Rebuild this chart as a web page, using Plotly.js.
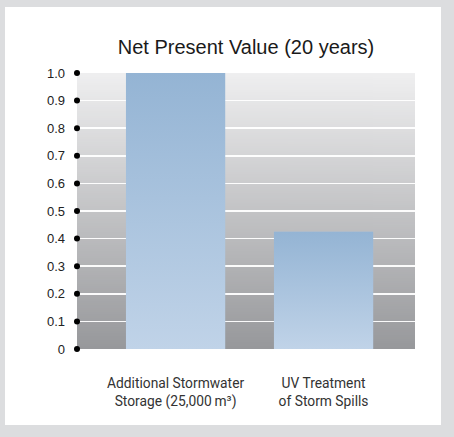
<!DOCTYPE html>
<html><head><meta charset="utf-8">
<script src="https://cdn.plot.ly/plotly-3.0.1.min.js"></script>
<style>
html,body{margin:0;padding:0;background:#dcdddf;width:454px;height:437px;overflow:hidden}
#panel{position:absolute;left:5px;top:7px;width:436px;height:418px;background:#fff}
#chart{width:436px;height:418px}
</style></head><body><div id="panel"><div id="chart"></div></div>
<script>
// ---- data ----
const categories = ["Additional Stormwater<br>Storage (25,000\u2009m³)", "UV Treatment<br>of Storm Spills"];
const categoryPositions = [0, 1];
const npvValues = [1.0, 0.425];
const yTickValues = [0, 0.1, 0.2, 0.3, 0.4, 0.5, 0.6, 0.7, 0.8, 0.9, 1.0];
const yTickLabels = ["0", "0.1", "0.2", "0.3", "0.4", "0.5", "0.6", "0.7", "0.8", "0.9", "1.0"];
const chartTitle = "Net Present Value (20 years)";

// ---- style ----
const barWidth = 0.67;
const xRange = [-0.666, 1.618];
const yRange = [0, 1.0];
const barTop = '#94b4d4', barBottom = '#c0d3e8';

function gradientURL(top, bottom) {
  const c = document.createElement('canvas');
  c.width = 4; c.height = 256;
  const g = c.getContext('2d');
  const gr = g.createLinearGradient(0, 0, 0, 256);
  gr.addColorStop(0, top); gr.addColorStop(1, bottom);
  g.fillStyle = gr; g.fillRect(0, 0, 4, 256);
  return c.toDataURL();
}

const traces = [];
traces.push({
  type: 'bar', x: categoryPositions, y: npvValues, width: barWidth,
  marker: {color: '#aac4df', line: {width: 0}}, hoverinfo: 'skip', showlegend: false
});
// gradient overlay per bar, derived from same data
categoryPositions.forEach((p, i) => {
  const x0 = p - barWidth / 2, x1 = p + barWidth / 2;
  traces.push({
    type: 'scatter', mode: 'none', fill: 'toself',
    x: [x0, x1, x1, x0, x0], y: [0, 0, npvValues[i], npvValues[i], 0],
    fillgradient: {type: 'vertical', colorscale: [[0, barBottom], [1, barTop]]},
    hoverinfo: 'skip', showlegend: false
  });
});
// tick dots on the left axis
traces.push({
  type: 'scatter', mode: 'markers', x: yTickValues.map(() => xRange[0]), y: yTickValues,
  marker: {color: '#000', size: 6}, cliponaxis: false, hoverinfo: 'skip', showlegend: false
});

const layout = {
  width: 436, height: 418,
  margin: {l: 72, r: 26, t: 66, b: 76},
  paper_bgcolor: '#ffffff', plot_bgcolor: 'rgba(0,0,0,0)',
  showlegend: false,
  title: {text: chartTitle, x: 0.5, xref: 'paper', y: 1 - 40 / 418, yref: 'container', yanchor: 'middle',
    font: {family: 'Liberation Sans, Arial, sans-serif', size: 20, color: '#1a1a1a'}},
  xaxis: {range: xRange, tickvals: categoryPositions, ticktext: categories, showgrid: false,
    zeroline: false, showline: false, ticks: '', fixedrange: true, ticklabelstandoff: 24,
    tickfont: {family: 'Roboto, sans-serif', size: 13.8, color: '#333'}},
  yaxis: {range: yRange, tickvals: yTickValues, ticktext: yTickLabels, showgrid: true,
    gridcolor: 'rgba(255,255,255,0.95)', gridwidth: 1.5, zeroline: false, showline: false,
    ticks: '', ticklabelstandoff: 11, fixedrange: true,
    tickfont: {family: 'Liberation Sans, Arial, sans-serif', size: 13, color: '#222'}},
  images: [{source: gradientURL('#efeff0', '#97989b'), xref: 'paper', yref: 'paper', x: 0, y: 1,
    sizex: 1, sizey: 1, xanchor: 'left', yanchor: 'top', sizing: 'stretch', layer: 'below'}]
};

Plotly.newPlot('chart', traces, layout, {displayModeBar: false, staticPlot: true});
</script></body></html>
